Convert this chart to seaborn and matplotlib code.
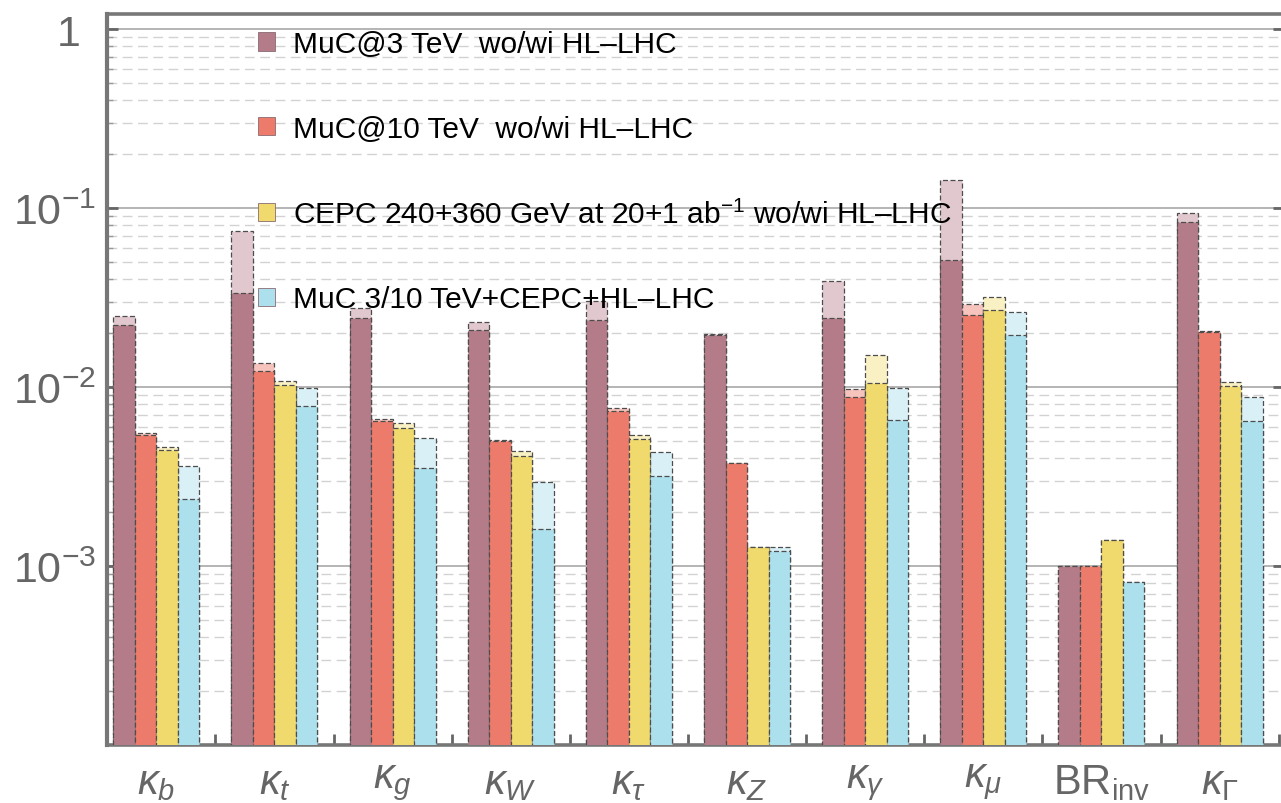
import numpy as np
import pandas as pd
import matplotlib
matplotlib.use("Agg")
import matplotlib.pyplot as plt
from matplotlib.patches import Patch
from matplotlib.ticker import LogLocator, NullFormatter, FixedLocator
from matplotlib.transforms import ScaledTranslation
import seaborn as sns

# ---- data -------------------------------------------------------------
couplings = [r"$\kappa_b$", r"$\kappa_t$", r"$\kappa_g$", r"$\kappa_W$", r"$\kappa_\tau$",
             r"$\kappa_Z$", r"$\kappa_\gamma$", r"$\kappa_\mu$", r"$\mathrm{BR}_{\mathrm{inv}}$",
             r"$\kappa_\Gamma$"]
colliders = ["MuC@3 TeV  wo/wi HL\u2013LHC",
             "MuC@10 TeV  wo/wi HL\u2013LHC",
             "CEPC 240+360 GeV at 20+1 ab$^{-1}$ wo/wi HL\u2013LHC",
             "MuC 3/10 TeV+CEPC+HL\u2013LHC"]

# precision without HL-LHC (light) and with HL-LHC (dark)
muc3_wo  = [0.0248, 0.0744, 0.0276, 0.0230, 0.0303, 0.0198, 0.0393, 0.143, 0.0010, 0.0934]
muc3_wi  = [0.0222, 0.0334, 0.0243, 0.0208, 0.0238, 0.0194, 0.0243, 0.0514, 0.0010, 0.0839]
muc10_wo = [0.00553, 0.01356, 0.00663, 0.00508, 0.00763, 0.00376, 0.00975, 0.0290, 0.0010, 0.0205]
muc10_wi = [0.00539, 0.01233, 0.00648, 0.00497, 0.00732, 0.00376, 0.00875, 0.0252, 0.0010, 0.0202]
cepc_wo  = [0.00464, 0.01084, 0.00627, 0.00441, 0.00539, 0.00128, 0.01515, 0.0317, 0.0014, 0.01062]
cepc_wi  = [0.00445, 0.0103, 0.00588, 0.00413, 0.00512, 0.00128, 0.01053, 0.0268, 0.0014, 0.01017]
comb_wo  = [0.00360, 0.0099, 0.00517, 0.00294, 0.00432, 0.00128, 0.0099, 0.0261, 0.00081, 0.00875]
comb_wi  = [0.00238, 0.0078, 0.00352, 0.00161, 0.00317, 0.00121, 0.00654, 0.0195, 0.00081, 0.00648]

ytick_values = [1e-3, 1e-2, 1e-1, 1.0]
ytick_labels = [r"$\mathregular{10^{-3}}$", r"$\mathregular{10^{-2}}$",
                r"$\mathregular{10^{-1}}$", r"$\mathregular{1}$"]

dark_colors  = ["#B47C89", "#EC7B6B", "#F0DA6E", "#ACE0EC"]
light_colors = ["#E1C8CF", "#F6C4BD", "#F9F1C4", "#D9F0F6"]

wo_series = [muc3_wo, muc10_wo, cepc_wo, comb_wo]
wi_series = [muc3_wi, muc10_wi, cepc_wi, comb_wi]

rows = []
for name, wo, wi in zip(colliders, wo_series, wi_series):
    for c, a, b in zip(couplings, wo, wi):
        rows.append({"coupling": c, "collider": name, "wo": a, "wi": b})
df = pd.DataFrame(rows)

# ---- style ------------------------------------------------------------
sns.set_style("white")
plt.rcParams["font.family"] = ["Liberation Sans", "DejaVu Sans"]
plt.rcParams["mathtext.fontset"] = "custom"
plt.rcParams["mathtext.rm"] = "Liberation Sans"
plt.rcParams["mathtext.it"] = "Liberation Sans:italic"
plt.rcParams["mathtext.bf"] = "Liberation Sans:bold"
plt.rcParams["mathtext.sf"] = "Liberation Sans"

W, H = 1281, 804
fig = plt.figure(figsize=(W / 100, H / 100), dpi=100)
ax_left, ax_right, ax_top, ax_bottom = 107.3, 1284, 15, 746
ax = fig.add_axes([ax_left / W, (H - ax_bottom) / H,
                   (ax_right - ax_left) / W, (ax_bottom - ax_top) / H])

group_width = 0.728
edge_kw = dict(edgecolor="#4d4d4d", linewidth=0.9, linestyle=(0, (4, 2)))

sns.barplot(data=df, x="coupling", y="wo", hue="collider", order=couplings,
            hue_order=colliders, palette=light_colors, saturation=1,
            width=group_width, errorbar=None, legend=False, ax=ax, zorder=2, **edge_kw)
sns.barplot(data=df, x="coupling", y="wi", hue="collider", order=couplings,
            hue_order=colliders, palette=dark_colors, saturation=1,
            width=group_width, errorbar=None, legend=False, ax=ax, zorder=3, **edge_kw)

ax.set_yscale("log")
ax.set_ylim(1e-4, 1.213)
ax.set_xlim(-0.415, 9.545)
ax.set_xlabel("")
ax.set_ylabel("")

# grid: solid decades, dashed sub-decades
ax.set_axisbelow(True)
ax.yaxis.set_minor_locator(LogLocator(base=10, subs=np.arange(2, 10), numticks=20))
ax.yaxis.set_minor_formatter(NullFormatter())
ax.grid(True, axis="y", which="major", color="#a8a8a8", linewidth=1.2, linestyle="-")
ax.grid(True, axis="y", which="minor", color="#d2d2d2", linewidth=1.0, linestyle=(0, (7, 4)))
ax.grid(False, axis="x")

# spines
spine_color = "#777777"
for side in ["left", "bottom", "top", "right"]:
    ax.spines[side].set_visible(True)
    ax.spines[side].set_color(spine_color)
ax.spines["left"].set_linewidth(3)
ax.spines["bottom"].set_linewidth(2.6)
ax.spines["top"].set_linewidth(2.6)
ax.spines["right"].set_linewidth(2.6)

# y ticks
label_gray = "#666666"
ax.set_yticks(ytick_values)
ax.set_yticklabels(ytick_labels)
ax.tick_params(axis="y", which="major", direction="in", length=8, width=2,
               color="#666666", labelsize=31, labelcolor=label_gray, pad=8,
               left=True, right=True)
ax.tick_params(axis="y", which="minor", direction="in", length=4, width=1,
               color="#999999", left=True, right=False)
# the single-digit "1" sits a little further from the axis
one_label = ax.get_yticklabels()[-1]
one_label.set_transform(one_label.get_transform() + ScaledTranslation(-0.16, 0, fig.dpi_scale_trans))

# x ticks: labels at group centres, short ticks at bar centres
n_groups = len(couplings)
n_hue = len(colliders)
bar_w = group_width / n_hue
bar_offsets = (np.arange(n_hue) - (n_hue - 1) / 2) * bar_w
bar_centres = (np.arange(n_groups)[:, None] + bar_offsets[None, :]).ravel()
ax.set_xticks(np.arange(n_groups))
ax.set_xticklabels(couplings)
ax.xaxis.set_minor_locator(FixedLocator(bar_centres))
ax.tick_params(axis="x", which="major", length=0, labelsize=30,
               labelcolor=label_gray, pad=12)
ax.tick_params(axis="x", which="minor", direction="in", length=4, width=2.2,
               color="#666666", bottom=True, top=False)

# longer separator ticks between groups
sep = ax.secondary_xaxis("bottom")
sep.set_xticks(np.arange(n_groups) + 0.5)
sep.set_xticklabels([])
sep.tick_params(direction="in", length=8, width=2, color="#666666")
sep.spines["bottom"].set_visible(False)

# legend
handles = [Patch(facecolor=c, edgecolor="#8a6a72", linewidth=0.6) for c in dark_colors]
fs = 21.5
leg = ax.legend(handles, colliders, loc="upper left",
                bbox_to_anchor=(258 / W, 1 - 31 / H), bbox_transform=fig.transFigure,
                frameon=False, fontsize=fs, handlelength=0.58, handleheight=0.58,
                handletextpad=0.6, labelspacing=1.9, borderpad=0, borderaxespad=0)
for t in leg.get_texts():
    t.set_color("black")

fig.savefig("out.png", dpi=100)
